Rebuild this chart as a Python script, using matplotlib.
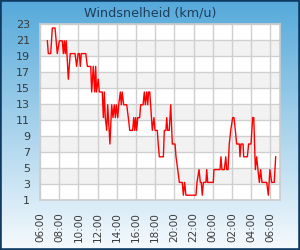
import numpy as np
import pandas as pd
import matplotlib
matplotlib.use("Agg")
import matplotlib.pyplot as plt
from matplotlib.colors import LinearSegmentedColormap
from matplotlib.patches import Rectangle

title = "Windsnelheid (km/u)"

times = ["06:46", "06:52", "07:07", "07:17", "07:34", "07:48", "08:01", "08:19", "08:26", "08:32",
         "08:38", "08:44", "08:57", "09:09", "09:39", "09:49", "09:58", "10:06", "10:12", "10:18",
         "10:46", "10:56", "11:17", "11:23", "11:33", "11:42", "11:48", "11:53", "12:04", "12:11",
         "12:29", "12:36", "12:42", "12:48", "12:57", "13:03", "13:17", "13:28", "13:36", "13:44",
         "13:51", "13:57", "14:06", "14:12", "14:22", "14:28", "14:34", "14:43", "15:02", "15:12",
         "15:21", "15:39", "15:46", "15:52", "15:58", "16:04", "16:11", "16:23", "16:29", "16:44",
         "16:52", "16:58", "17:07", "17:13", "17:19", "17:26", "17:42", "17:52", "17:59", "18:13",
         "18:19", "18:26", "18:51", "18:57", "19:07", "19:12", "19:18", "19:28", "19:37", "19:47",
         "20:04", "20:10", "20:21", "20:31", "20:49", "20:56", "21:04", "21:12", "22:15", "22:21",
         "22:34", "22:42", "22:48", "22:54", "23:01", "23:17", "23:22", "23:28", "00:03", "00:07",
         "00:45", "00:51", "00:57", "01:12", "01:21", "01:27", "01:35", "01:43", "01:52", "02:04",
         "02:12", "02:21", "02:29", "02:46", "02:50", "02:56", "03:09", "03:13", "03:36", "03:44",
         "03:59", "04:09", "04:16", "04:26", "04:34", "04:42", "04:51", "04:59", "05:07", "05:37",
         "05:47", "05:57", "06:08", "06:24", "06:33"]

speeds = [20.9, 19.3, 19.3, 22.5, 22.5, 19.3, 20.9, 20.9, 19.3, 20.9,
          19.3, 20.9, 16.1, 19.3, 19.3, 17.7, 19.3, 19.3, 17.7, 19.3,
          19.3, 17.7, 17.7, 14.5, 17.7, 14.5, 17.7, 14.5, 16.1, 14.5,
          14.5, 11.3, 14.5, 11.3, 9.7, 12.9, 8.0, 12.9, 11.3, 12.9,
          11.3, 12.9, 11.3, 12.9, 14.5, 12.9, 14.5, 12.9, 12.9, 11.3,
          9.7, 9.7, 11.3, 9.7, 11.3, 9.7, 11.3, 11.3, 12.9, 12.9,
          14.5, 12.9, 14.5, 12.9, 14.5, 14.5, 9.7, 11.3, 9.7, 9.7,
          8.0, 6.4, 6.4, 9.7, 9.7, 11.3, 9.7, 9.7, 12.9, 8.0,
          8.0, 6.4, 4.8, 3.2, 3.2, 1.6, 3.2, 1.6, 1.6, 3.2,
          4.8, 3.2, 3.2, 1.6, 3.2, 3.2, 4.8, 3.2, 3.2, 4.8,
          4.8, 6.4, 4.8, 4.8, 6.4, 4.8, 4.8, 8.0, 9.7, 11.3,
          11.3, 9.7, 8.0, 8.0, 6.4, 8.0, 8.0, 6.4, 6.4, 8.0,
          8.0, 11.3, 11.3, 4.8, 6.4, 4.8, 3.2, 4.8, 3.2, 3.2,
          1.6, 4.8, 3.2, 3.2, 6.4]

x_tick_labels = ["06:00", "08:00", "10:00", "12:00", "14:00", "16:00", "18:00",
                 "20:00", "22:00", "00:00", "02:00", "04:00", "06:00"]
y_ticks = [1, 3, 5, 7, 9, 11, 13, 15, 17, 19, 21, 23]

# convert times to hours since 06:00 (rolling over midnight)
t = pd.to_datetime(times, format="%H:%M")
mins = np.array(t.hour * 60 + t.minute, dtype=float)
hours = []
day = 0
prev = -1
for m in mins:
    if m < prev:
        day += 1
    prev = m
    hours.append((m + day * 1440) / 60.0 - 6.0)
hours = np.array(hours)

W, H = 300, 250
fig = plt.figure(figsize=(W / 100, H / 100), dpi=100)

# gradient background
bg = fig.add_axes([0, 0, 1, 1], zorder=-10)
cmap = LinearSegmentedColormap.from_list("bg", ["#55a9da", "#f6fafd"])
grad = np.linspace(0, 1, 256).reshape(-1, 1)
bg.imshow(grad, aspect="auto", cmap=cmap, extent=[0, 1, 0, 1], origin="upper")
bg.set_xlim(0, 1)
bg.set_ylim(0, 1)
bg.axis("off")
bg.add_patch(Rectangle((0, 0), 1, 1, transform=bg.transAxes, fill=False,
                       edgecolor="#0f3b63", linewidth=2.6, clip_on=True))

ax = fig.add_axes([40 / W, 50 / H, 240 / W, 176 / H])
ax.set_facecolor("white")
for lo in range(3, 23, 4):
    ax.axhspan(lo, lo + 2, color="#f2f2f2", zorder=0, linewidth=0)

ax.plot(hours, speeds, color="#ff0000", linewidth=1.0, zorder=3)

ax.set_xlim(0, 25)
ax.set_ylim(1, 23)
ax.set_xticks(np.arange(0, 25, 2))
ax.set_xticklabels(x_tick_labels, rotation=90, fontsize=7.5, color="#3a3a3a")
ax.set_yticks(y_ticks)
ax.set_yticklabels([str(v) for v in y_ticks], fontsize=8, color="#3a3a3a")
ax.tick_params(axis="both", length=0)
ax.tick_params(axis="x", pad=9)
ax.tick_params(axis="y", pad=7)
ax.grid(True, color="#cfcfcf", linewidth=1.0, zorder=1)
ax.set_axisbelow(True)
for s in ax.spines.values():
    s.set_color("#cccccc")
    s.set_linewidth(1.2)

fig.text(0.5, 1 - 13 / H, title, ha="center", va="center", fontsize=9.2,
         color="#1d3e5c")

fig.savefig("out.png", dpi=100)
